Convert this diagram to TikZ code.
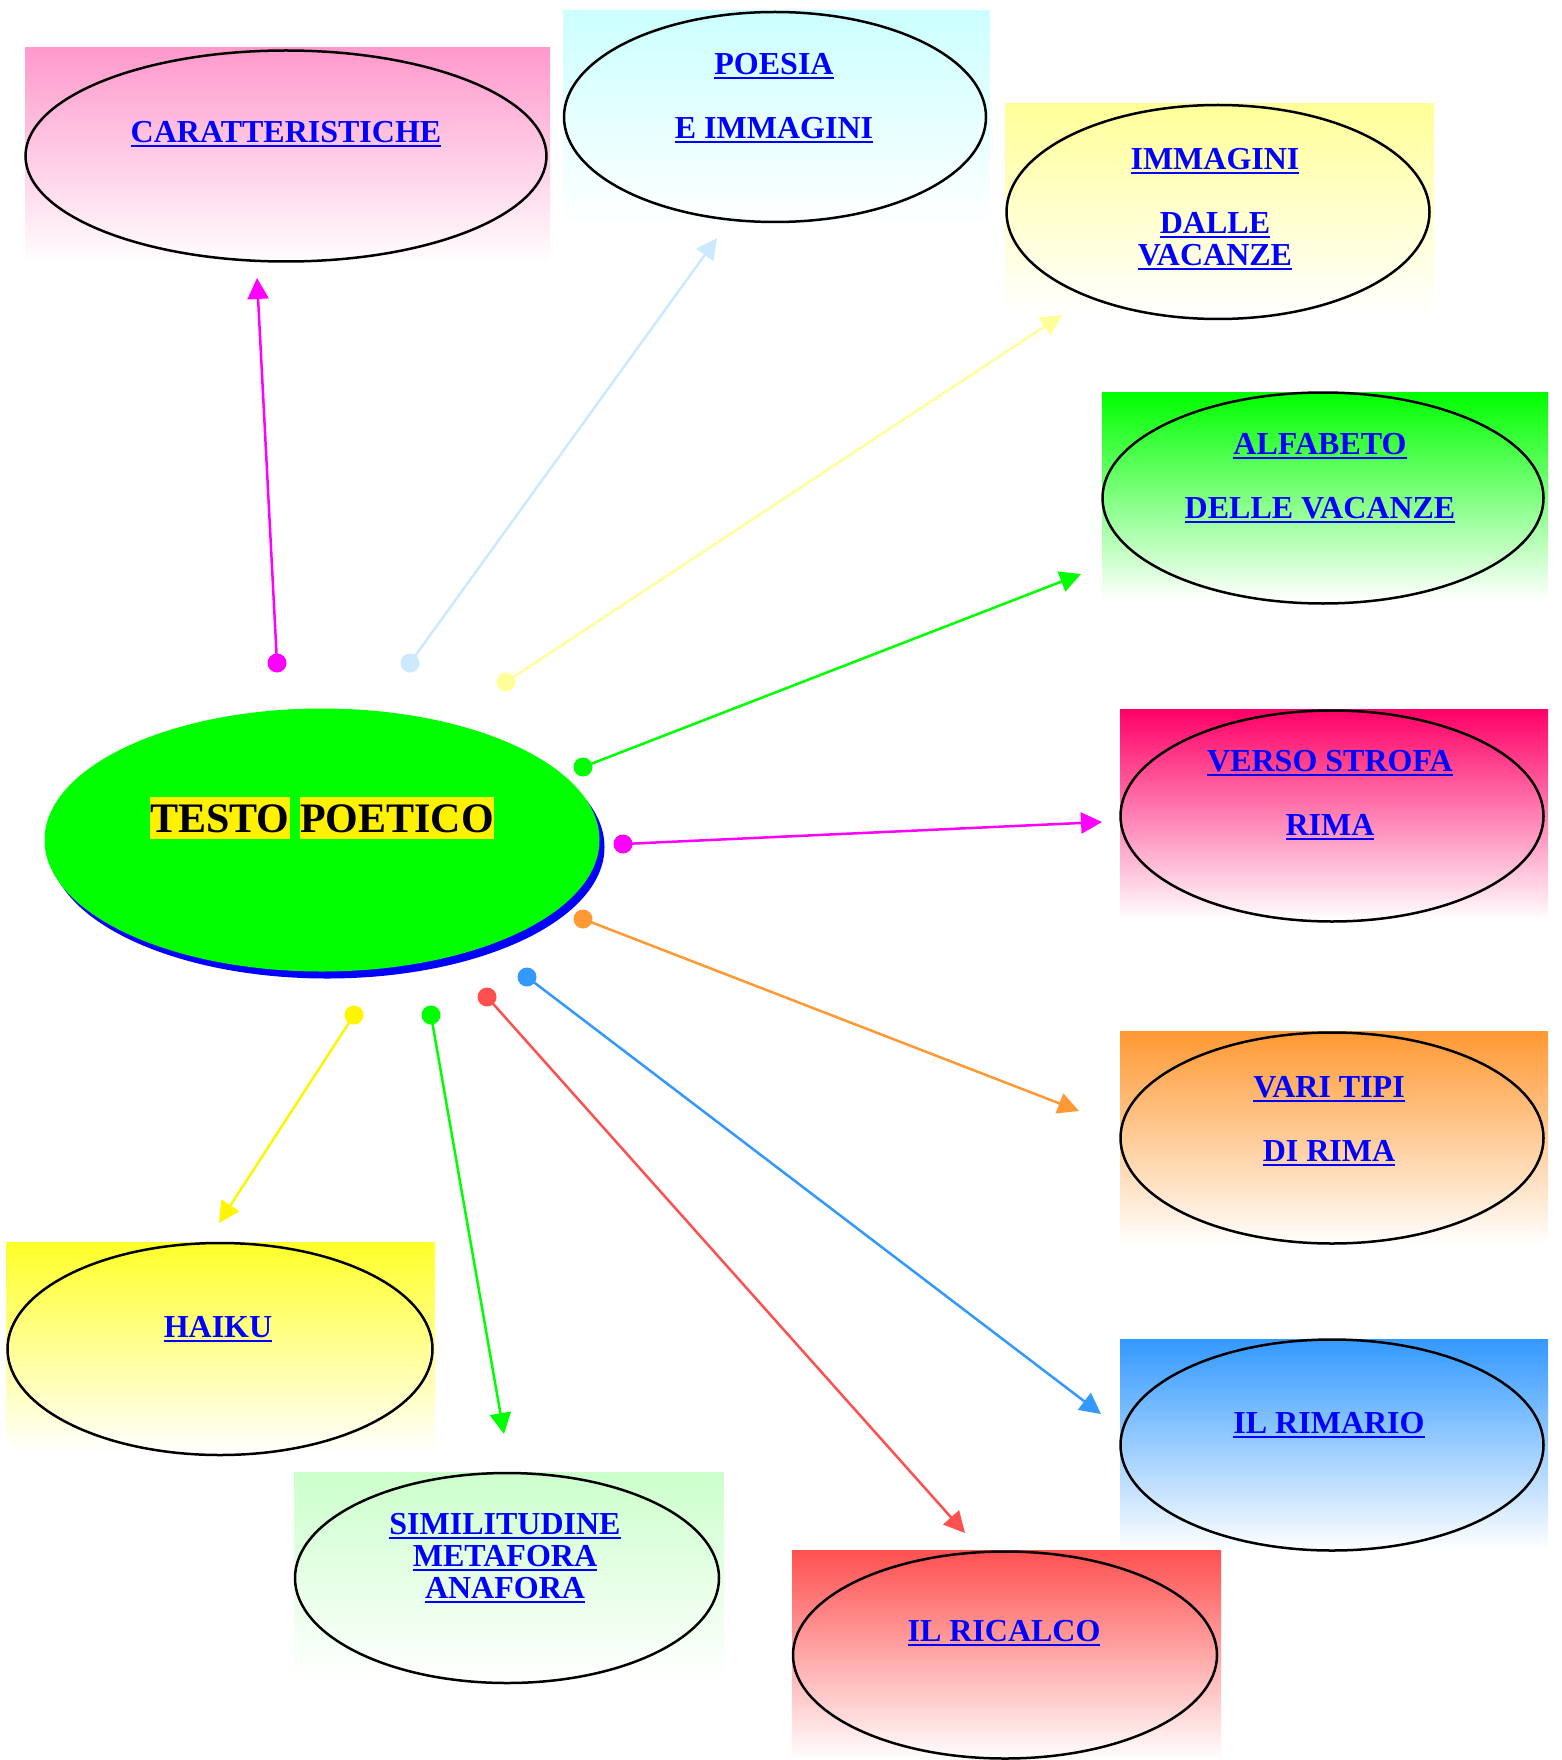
\documentclass[tikz,border=0pt]{standalone}
\usepackage{fontspec}
\setmainfont{Liberation Serif}
\usetikzlibrary{shapes.geometric,arrows.meta}
\definecolor{pinkbox}{RGB}{255,153,204}
\definecolor{cyanbox}{RGB}{204,255,255}
\definecolor{lyellowbox}{RGB}{255,255,153}
\definecolor{greenbox}{RGB}{0,255,0}
\definecolor{crimsonbox}{RGB}{255,0,102}
\definecolor{orangebox}{RGB}{255,153,51}
\definecolor{bluebox}{RGB}{51,153,255}
\definecolor{redbox}{RGB}{255,80,80}
\definecolor{mintbox}{RGB}{204,255,204}
\definecolor{yellowbox}{RGB}{255,255,40}
\definecolor{magline}{RGB}{255,0,255}
\definecolor{skyline}{RGB}{204,234,255}
\definecolor{yellowline}{RGB}{255,245,0}
\tikzset{
  oval/.style={ellipse,draw=black,line width=2.5pt,inner sep=0pt},
  linktext/.style={text=blue,font=\fontsize{32}{32}\selectfont\bfseries,align=center,inner sep=0pt,anchor=north},
  conn/.style={line width=2.5pt,-{Triangle[length=21pt,width=21pt]}},
}
\newcommand\lnk[1]{\leavevmode\setbox0=\hbox{#1}\rlap{\copy0}\rule[-5pt]{\wd0}{2.5pt}}
\newcommand\hl[1]{{\fboxsep=0pt\colorbox{yellow}{\rule[-7pt]{0pt}{42pt}#1}}}

\begin{document}
\begin{tikzpicture}[x=1pt,y=-1pt]
\useasboundingbox (0,0) rectangle (1562,1760);

%% central topic
\fill[blue] (327,847) ellipse (277.5pt and 131.5pt);
\fill[greenbox] (322,840) ellipse (277.5pt and 131.5pt);
\node[anchor=base,inner sep=0pt,font=\fontsize{42}{42}\selectfont\bfseries] (testo) at (322,832) {\hl{TESTO} \hl{POETICO}};

%% boxes round the centre
\shade[top color=pinkbox,bottom color=white] (25,48) rectangle (550,264);
\node[oval,minimum width=521pt,minimum height=211pt] (cara) at (286,156) {};
\node[linktext] (caratxt) at (286,121) {\lnk{CARATTERISTICHE}};

\shade[top color=cyanbox,bottom color=white] (563,11) rectangle (990,226);
\node[oval,minimum width=422pt,minimum height=210pt] (poes) at (775,117) {};
\node[linktext] (poestxt) at (774,53) {\lnk{POESIA}\\[32pt]\lnk{E IMMAGINI}};

\shade[top color=lyellowbox,bottom color=white] (1005,104) rectangle (1434,316);
\node[oval,minimum width=423pt,minimum height=214pt] (imma) at (1218,212) {};
\node[linktext] (immatxt) at (1215,148) {\lnk{IMMAGINI}\\[32pt]\lnk{DALLE}\\\lnk{VACANZE}};

\shade[top color=greenbox,bottom color=white] (1102,392) rectangle (1548,600);
\node[oval,minimum width=441pt,minimum height=211pt] (alfa) at (1323,498) {};
\node[linktext] (alfatxt) at (1320,433) {\lnk{ALFABETO}\\[32pt]\lnk{DELLE VACANZE}};

\shade[top color=crimsonbox,bottom color=white] (1120,709) rectangle (1548,920);
\node[oval,minimum width=423pt,minimum height=211pt] (vers) at (1332,816) {};
\node[linktext] (verstxt) at (1330,750) {\lnk{VERSO STROFA}\\[32pt]\lnk{RIMA}};

\shade[top color=orangebox,bottom color=white] (1120,1031) rectangle (1548,1245);
\node[oval,minimum width=423pt,minimum height=211pt] (vari) at (1332,1138) {};
\node[linktext] (varitxt) at (1329,1076) {\lnk{VARI TIPI}\\[32pt]\lnk{DI RIMA}};

\shade[top color=bluebox,bottom color=white] (1120,1339) rectangle (1548,1550);
\node[oval,minimum width=423pt,minimum height=211pt] (rima) at (1332,1445) {};
\node[linktext] (rimatxt) at (1329,1412) {\lnk{IL RIMARIO}};

\shade[top color=redbox,bottom color=white] (792,1550) rectangle (1221,1760);
\node[oval,minimum width=424pt,minimum height=207pt] (rica) at (1005,1655) {};
\node[linktext] (ricatxt) at (1004,1620) {\lnk{IL RICALCO}};

\shade[top color=mintbox,bottom color=white] (294,1472) rectangle (724,1680);
\node[oval,minimum width=424pt,minimum height=210pt] (simi) at (507,1578) {};
\node[linktext] (simitxt) at (505,1513) {\lnk{SIMILITUDINE}\\\lnk{METAFORA}\\\lnk{ANAFORA}};

\shade[top color=yellowbox,bottom color=white] (6,1242) rectangle (435,1452);
\node[oval,minimum width=425pt,minimum height=212pt] (haik) at (220,1349) {};
\node[linktext] (haiktxt) at (218,1316) {\lnk{HAIKU}};

%% connectors: dot near the centre, arrow at the box
\foreach \i/\xa/\ya/\xb/\yb/\col in {
  1/277/663/257/278/magline,
  2/410/663/717/238/skyline,
  3/506/682/1062/315/lyellowbox,
  4/583/767/1081/574/greenbox,
  5/623/844/1102/822/magline,
  6/583/919/1079/1111/orangebox,
  7/527/977/1101/1414/bluebox,
  8/487/997/965/1533/redbox,
  9/431/1015/504/1434/greenbox,
  10/354/1015/219/1223/yellowline}
{
  \coordinate (dot\i) at (\xa,\ya);
  \coordinate (tip\i) at (\xb,\yb);
  \fill[\col] (dot\i) circle (9.5pt);
  \draw[conn,\col] (dot\i) -- (tip\i);
}

\end{tikzpicture}
\end{document}
